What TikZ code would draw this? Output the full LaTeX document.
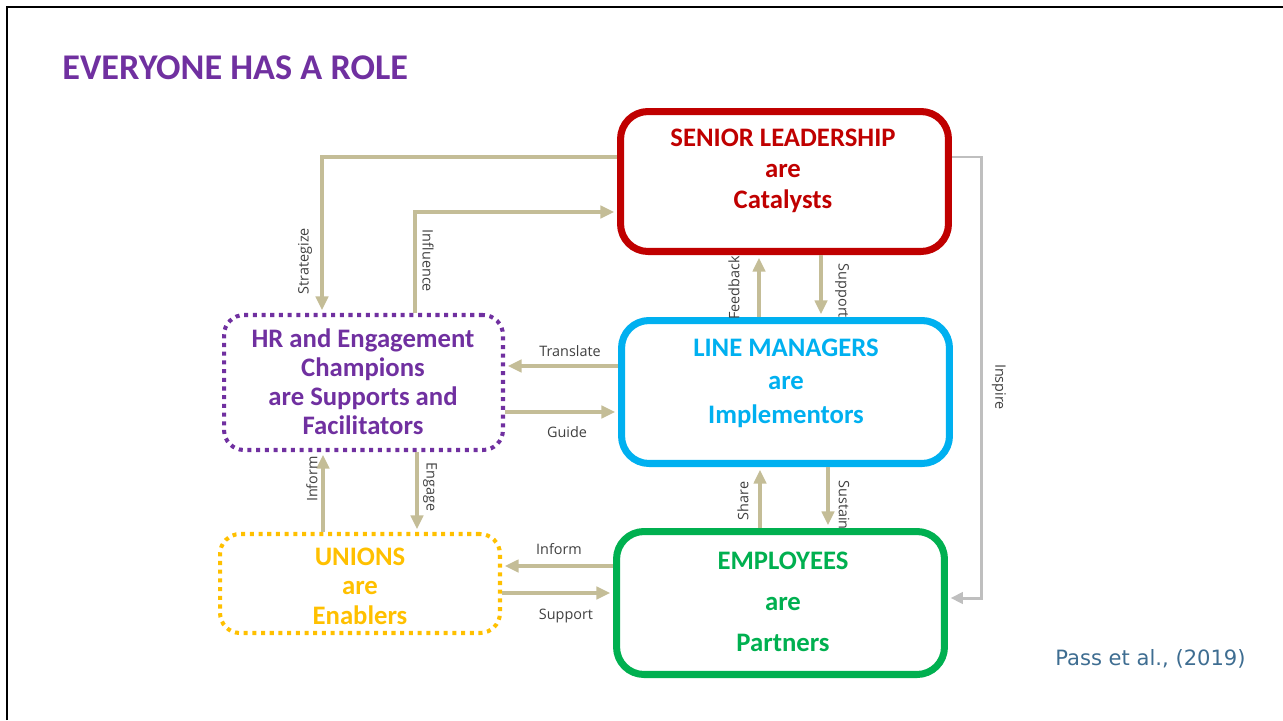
\documentclass[tikz,border=0pt]{standalone}
\usepackage{fontspec}
\setmainfont{Carlito}
\newfontfamily\labelfont{Open Sans}
\newfontfamily\citefont{DejaVu Sans}
\usepackage{tikz}
\usetikzlibrary{calc}
\usetikzlibrary{arrows.meta}
\definecolor{leadred}{RGB}{192, 0, 0}
\definecolor{managerblue}{RGB}{0, 176, 240}
\definecolor{staffgreen}{RGB}{0, 176, 80}
\definecolor{hrpurple}{RGB}{112, 48, 160}
\definecolor{unionyellow}{RGB}{255, 192, 0}
\definecolor{linktan}{RGB}{196, 189, 151}
\definecolor{inspiregray}{RGB}{191, 191, 191}
\definecolor{labelgray}{RGB}{64, 64, 64}
\definecolor{citeblue}{RGB}{62, 109, 145}

\begin{document}
\begin{tikzpicture}[x=0.02cm, y=-0.02cm,
        rolebox/.style={draw=#1, line width=4pt, rounded corners=0.55cm, fill=white},
        dotbox/.style={draw=#1, line width=2.3pt, rounded corners=0.4cm, dash pattern=on 2.3pt off 2.65pt},
        roletext/.style={font=\fontsize{15.2}{#1}\selectfont\bfseries, align=center, inner sep=0pt},
        link/.style={linktan, line width=2.2pt, shorten >=1.5pt, -{Triangle[length=8pt,width=7pt]}},
        inspire/.style={inspiregray, line width=1.7pt, shorten >=1.5pt, -{Triangle[length=7pt,width=6.5pt]}},
        linklabel/.style={font=\labelfont\fontsize{8.2}{10}\selectfont, text=labelgray, inner sep=0pt}]
    \useasboundingbox (0,0) rectangle (1283,720);
    \draw[line width=1.6pt] (7,720) -- (7,7) -- (1283,7);

    \node[font=\fontsize{20.6}{24}\selectfont\bfseries, text=hrpurple, anchor=west, inner sep=0pt] (title) at (62,68) {EVERYONE HAS A ROLE};

    % the five roles
    \node[rolebox=leadred,     minimum width=6.56cm, minimum height=2.80cm] (senior) at (784.5,181.5) {};
    \node[rolebox=managerblue, minimum width=6.56cm, minimum height=2.86cm] (lm)     at (785.5,392.0) {};
    \node[rolebox=staffgreen,  minimum width=6.56cm, minimum height=2.86cm] (emp)    at (780.5,603.0) {};
    \node[dotbox=hrpurple,     minimum width=5.58cm, minimum height=2.70cm] (hr)     at (363.5,382.5) {};
    \node[dotbox=unionyellow,  minimum width=5.60cm, minimum height=1.98cm] (unions) at (360.0,583.5) {};

    \node[roletext=17.6pt, text=leadred]     (seniortext) at (783,171) {SENIOR LEADERSHIP\\are\\Catalysts};
    \node[roletext=19pt,   text=managerblue] (lmtext)     at (786,383) {LINE MANAGERS\\are\\Implementors};
    \node[roletext=23.3pt, text=staffgreen]  (emptext)    at (783,602) {EMPLOYEES\\are\\Partners};
    \node[roletext=16.5pt, text=hrpurple]    (hrtext)     at (363,382) {HR and Engagement\\Champions\\are Supports and\\Facilitators};
    \node[roletext=16.8pt, text=unionyellow] (unionstext) at (360,586) {UNIONS\\are\\Enablers};

    % connectors
    \draw[link] (senior.west |- 0,157) -| (hr.north -| 322,0);
    \draw[link] (hr.north -| 415,0) |- (senior.west |- 0,212);
    \draw[link] (lm.north -| 759,0) -- (senior.south -| 759,0);
    \draw[link] (senior.south -| 821,0) -- (lm.north -| 821,0);
    \draw[link] (lm.west |- 0,366) -- (hr.east |- 0,366);
    \draw[link] (hr.east |- 0,412) -- (lm.west |- 0,412);
    \draw[link] (emp.north -| 760,0) -- (lm.south -| 760,0);
    \draw[link] (lm.south -| 828,0) -- (emp.north -| 828,0);
    \draw[link] (unions.north -| 323,0) -- (hr.south -| 323,0);
    \draw[link] (hr.south -| 417,0) -- (unions.north -| 417,0);
    \draw[link] (emp.west |- 0,566) -- (unions.east |- 0,566);
    \draw[link] (unions.east |- 0,593) -- (emp.west |- 0,593);
    \draw[inspire] (senior.east |- 0,157) -| (981,598) -- (emp.east |- 0,598);

    \node[linklabel, rotate=90]  (strategize) at (305,261) {Strategize};
    \node[linklabel, rotate=-90] (influence)  at (428,261) {Influence};
    \node[linklabel, rotate=90]  (feedback)   at (734,288) {Feedback};
    \node[linklabel, rotate=-90] (support)    at (842,291) {Support};
    \node[linklabel]             (translate)  at (570,351) {Translate};
    \node[linklabel]             (guide)      at (567,432) {Guide};
    \node[linklabel, rotate=90]  (share)      at (743,501) {Share};
    \node[linklabel, rotate=-90] (sustain)    at (844,505) {Sustain};
    \node[linklabel, rotate=90]  (informhr)   at (312,479) {Inform};
    \node[linklabel, rotate=-90] (engage)     at (430,487) {Engage};
    \node[linklabel]             (informemp)  at (559,549) {Inform};
    \node[linklabel]             (supportemp) at (566,616) {Support};
    \node[linklabel, rotate=-90] (inspirelbl) at (999,387) {Inspire};

    \node[font=\citefont\fontsize{12}{14}\selectfont, text=citeblue, anchor=west, inner sep=0pt] (cite) at (1055,659) {Pass et al., (2019)};
\end{tikzpicture}
\end{document}
